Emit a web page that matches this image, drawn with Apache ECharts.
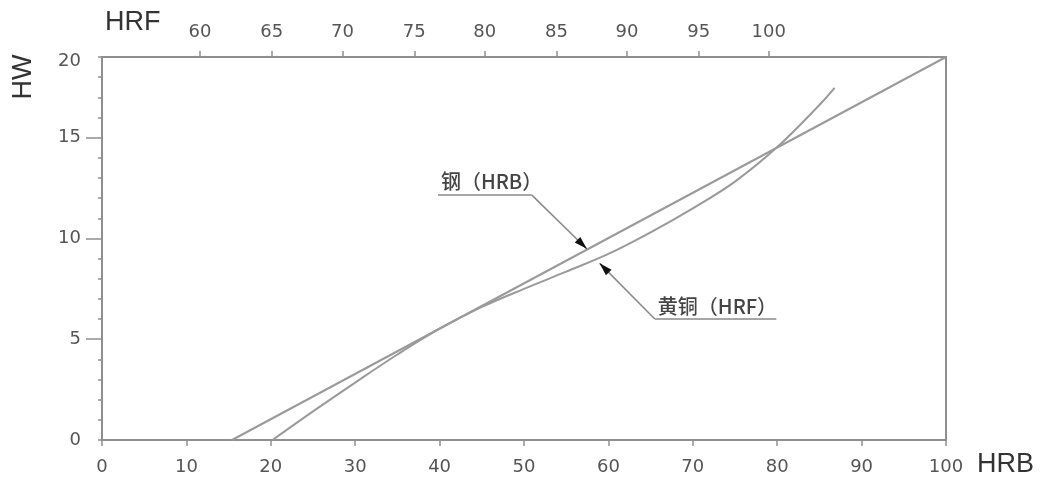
<!DOCTYPE html>
<html><head><meta charset="utf-8">
<script src="https://cdn.jsdelivr.net/npm/echarts@6/dist/echarts.min.js"></script>
<style>html,body{margin:0;padding:0;background:#fff}#c{width:1040px;height:478px}</style>
</head><body><div id="c"></div>
<script>
// ---- data ----
const steelHRB = [15.4, 100];
const steelHW = [0, 19];
const brassHRB = [20.2, 25, 30, 35, 40, 45, 50, 55, 60, 65, 70, 75, 80, 85, 86.8];
const brassHW = [0, 1.42, 2.85, 4.24, 5.52, 6.6, 7.5, 8.35, 9.23, 10.3, 11.49, 12.82, 14.53, 16.62, 17.47];
const hwLabelAt = [0, 5, 10, 15, 18.77];
const hwLabelText = ['0', '5', '10', '15', '20'];
const hwLongTicks = [5, 10, 15];
const hwShortTicks = [0, 1, 2, 3, 4, 6, 7, 8, 9, 11, 12, 13, 14, 16, 17, 18, 19];
const hrfLabels = [60, 65, 70, 75, 80, 85, 90, 95, 100];
const hrfAtHRB = [11.6, 20.1, 28.5, 37.0, 45.35, 53.85, 62.2, 70.7, 79.0];
const noteTexts = ['钢（HRB）', '黄铜（HRF）'];
const noteLineFrom = [[39.8, 12.16], [65.5, 6.0]];
const noteLineTo = [[50.9, 12.16], [79.9, 6.0]];
const noteElbow = [[50.9, 12.16], [65.5, 6.0]];
const noteTip = [[57.4, 9.5], [59.0, 8.75]];

// ---- style ----
const GREY = '#9a9a9a';
const AXIS = '#8f8f8f';
const TXT = '#555';
const NUMFONT = 'DejaVu Sans';

const toPairs = (xs, ys) => xs.map((x, i) => [x, ys[i]]);
const pick = (vals, texts, v) => {
  let best = 0;
  vals.forEach((p, i) => { if (Math.abs(p - v) < Math.abs(vals[best] - v)) best = i; });
  return String(texts[best]);
};

const markData = [];
noteTexts.forEach((t, i) => {
  const e = noteElbow[i], tp = noteTip[i];
  const base = [tp[0] - (tp[0] - e[0]) * 0.08, tp[1] - (tp[1] - e[1]) * 0.08];
  markData.push([
    {coord: noteLineFrom[i], symbol: 'none',
     label: {show: true, formatter: t, position: 'insideStartTop', distance: 3,
             color: '#444', fontSize: 20, fontWeight: 500, fontFamily: 'Noto Sans CJK SC'}},
    {coord: noteLineTo[i], symbol: 'none'}
  ]);
  markData.push([
    {coord: e, symbol: 'none'},
    {coord: tp, symbol: 'none'}
  ]);
  markData.push([
    {coord: base, symbol: 'none', lineStyle: {color: '#111', width: 1}},
    {coord: tp, symbol: 'triangle', symbolSize: [8, 13], symbolOffset: [0, 6]}
  ]);
});

const chart = echarts.init(document.getElementById('c'), null, {renderer: 'canvas'});
chart.setOption({
  animation: false,
  backgroundColor: '#fff',
  grid: {left: 102, right: 94, top: 57, bottom: 38, containLabel: false},
  xAxis: [
    {type: 'value', position: 'bottom', min: 0, max: 100, interval: 10,
     axisLine: {show: true, onZero: false, lineStyle: {color: AXIS, width: 2}},
     axisTick: {show: true, length: 6, lineStyle: {color: AXIS, width: 1.5}},
     axisLabel: {margin: 18, color: TXT, fontSize: 18, fontFamily: NUMFONT},
     splitLine: {show: false}},
    {type: 'value', position: 'top', min: 0, max: 100,
     axisLine: {show: true, onZero: false, lineStyle: {color: AXIS, width: 2}},
     axisTick: {show: true, length: 6, customValues: hrfAtHRB, lineStyle: {color: AXIS, width: 1.5}},
     axisLabel: {margin: 16, color: TXT, fontSize: 18, fontFamily: NUMFONT, customValues: hrfAtHRB,
       formatter: (v) => pick(hrfAtHRB, hrfLabels, v)},
     splitLine: {show: false}}
  ],
  yAxis: [
    {type: 'value', position: 'left', min: 0, max: 19,
     axisLine: {show: true, onZero: false, lineStyle: {color: AXIS, width: 2}},
     axisTick: {show: true, length: 16, customValues: hwLongTicks, lineStyle: {color: AXIS, width: 1.5}},
     axisLabel: {margin: 21, color: TXT, fontSize: 18, fontFamily: NUMFONT, customValues: hwLabelAt,
       formatter: (v) => pick(hwLabelAt, hwLabelText, v)},
     splitLine: {show: false}},
    {type: 'value', position: 'right', min: 0, max: 19,
     axisLine: {show: true, onZero: false, lineStyle: {color: AXIS, width: 2}},
     axisTick: {show: false}, axisLabel: {show: false}, splitLine: {show: false}},
    {type: 'value', position: 'left', min: 0, max: 19,
     axisLine: {show: false},
     axisTick: {show: true, length: 4, customValues: hwShortTicks, lineStyle: {color: AXIS, width: 1.5}},
     axisLabel: {show: false}, splitLine: {show: false}}
  ],
  graphic: [
    {type: 'text', x: 105, y: 23, style: {text: 'HRF', fill: '#333', font: '27px "Liberation Sans"', verticalAlign: 'middle', align: 'left'}},
    {type: 'text', x: 24, y: 77, rotation: Math.PI / 2, style: {text: 'HW', fill: '#333', font: '27px "Liberation Sans"', verticalAlign: 'middle', align: 'center'}},
    {type: 'text', x: 977, y: 465, style: {text: 'HRB', fill: '#333', font: '27px "Liberation Sans"', verticalAlign: 'middle', align: 'left'}}
  ],
  series: [
    {name: '钢（HRB）', type: 'line', xAxisIndex: 0, yAxisIndex: 0,
     data: toPairs(steelHRB, steelHW), showSymbol: false, symbol: 'none',
     lineStyle: {color: GREY, width: 2}},
    {name: '黄铜（HRF）', type: 'line', xAxisIndex: 0, yAxisIndex: 0, smooth: 0.35,
     data: toPairs(brassHRB, brassHW), showSymbol: false, symbol: 'none',
     lineStyle: {color: GREY, width: 2},
     markLine: {silent: true, animation: false, symbol: 'none', precision: 4,
       lineStyle: {color: '#888', width: 1.5, type: 'solid'},
       label: {show: false},
       emphasis: {disabled: true},
       data: markData}}
  ]
});
</script>
</body></html>
